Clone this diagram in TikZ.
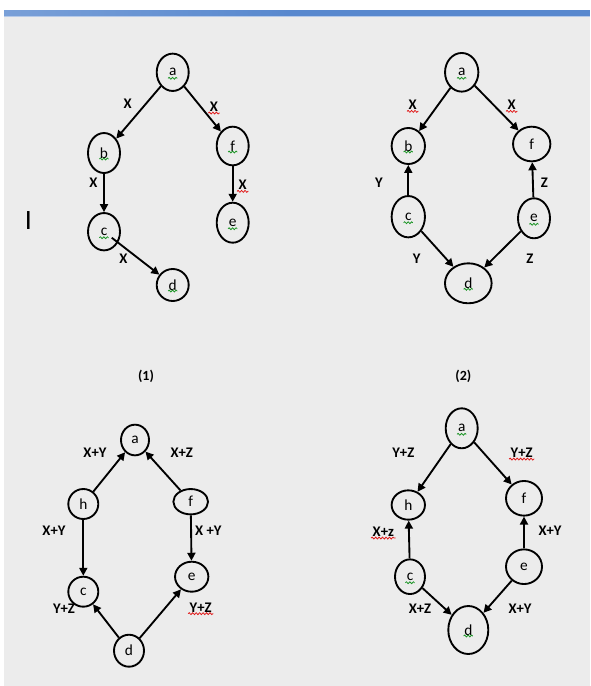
\documentclass[tikz,border=0pt]{standalone}
\usepackage{fontspec}
\setmainfont{Carlito}
\usetikzlibrary{shapes.geometric,arrows.meta,decorations.pathmorphing}
\definecolor{panel}{RGB}{236,236,236}
\definecolor{titlebar}{RGB}{88,136,206}
\definecolor{spellred}{RGB}{225,25,25}
\definecolor{spellgreen}{RGB}{30,150,40}
\tikzset{>={Triangle[length=6pt,width=6pt]}}
\tikzset{
	vertex/.style={draw, ellipse, line width=1.4pt, inner sep=0pt,
		minimum width=24pt, minimum height=28pt, font=\fontsize{11.5}{13}\selectfont},
	wlabel/.style={inner sep=1pt, font=\bfseries\fontsize{11}{13}\selectfont},
	edge/.style={->, line width=1.4pt},
	redwave/.style={spellred, line width=0.6pt,
		decorate, decoration={snake, segment length=2.6pt, amplitude=0.7pt}},
	greenwave/.style={spellgreen, line width=0.6pt,
		decorate, decoration={snake, segment length=2.6pt, amplitude=0.7pt}}
}

\begin{document}
\begin{tikzpicture}[x=0.75pt, y=-0.75pt]
	\useasboundingbox (0,0) rectangle (590,686);
	% window
	\fill[panel] (4,16) rectangle (590,686);
	\shade[left color=titlebar!80!white, right color=titlebar] (4,10) rectangle (290,16);
	\fill[titlebar] (290,10) rectangle (590,16);
	\fill[titlebar!45!white] (4,16) rectangle (590,17);
	\node[inner sep=0pt, font=\fontsize{21}{21}\selectfont] (cursor) at (28.3,220.7) {I};

	% graph (1)
	\begin{scope}[every node/.append style={vertex}]
		\node (a1) at (172.7, 72.3) {a};
		\node[minimum height=30pt] (b1) at (104, 153) {b};
		\node[minimum height=29pt] (f1) at (232.7, 146) {f};
		\node (c1) at (104, 231.7) {c};
		\node[minimum height=30pt] (e1) at (232.7, 222.7) {e};
		\node[minimum height=24pt] (d1) at (172.7, 285) {d};
	\end{scope}
	\draw[edge] (a1) -- (b1);
	\draw[edge] (a1) -- (f1);
	\draw[edge] (b1) -- (c1);
	\draw[edge] (f1) -- (e1);
	\draw[edge, shorten <=-6pt] (c1) -- (d1);
	\node[wlabel] (x11) at (127.7, 103.3) {X};
	\node[wlabel] (x12) at (214, 106.7) {X};
	\node[wlabel] (x13) at (93.3, 182.7) {X};
	\node[wlabel] (x14) at (242.7, 185) {X};
	\node[wlabel] (x15) at (123.3, 259) {X};
	\node[wlabel, font=\bfseries\fontsize{10.5}{12}\selectfont] (cap1) at (146, 376) {(1)};

	% graph (2)
	\begin{scope}[every node/.append style={vertex}]
		\node[minimum width=25pt, minimum height=29pt] (a2) at (461.7, 72.3) {a};
		\node[minimum width=25pt, minimum height=27pt] (b2) at (408.3, 146) {b};
		\node[minimum width=28pt, minimum height=26pt] (f2) at (531.7, 144) {f};
		\node[minimum width=25pt, minimum height=31pt] (c2) at (408.3, 216.7) {c};
		\node[minimum height=30pt] (e2) at (534, 218.3) {e};
		\node[minimum width=35pt, minimum height=30pt] (d2) at (468.3, 283.3) {d};
	\end{scope}
	\draw[edge] (a2) -- (b2);
	\draw[edge] (a2) -- (f2);
	\draw[edge] (c2) -- (b2);
	\draw[edge] (e2) -- (f2);
	\draw[edge] (c2) -- (d2);
	\draw[edge] (e2) -- (d2);
	\node[wlabel] (x21) at (412.7, 105) {X};
	\node[wlabel] (x22) at (511.7, 105) {X};
	\node[wlabel] (y21) at (379, 182.7) {Y};
	\node[wlabel] (z21) at (544.3, 182.7) {Z};
	\node[wlabel] (y22) at (416.7, 258.3) {Y};
	\node[wlabel] (z22) at (530, 258.3) {Z};
	\node[wlabel, font=\bfseries\fontsize{10.5}{12}\selectfont] (cap2) at (463.3, 376) {(2)};

	% graph (3)
	\begin{scope}[every node/.append style={vertex, minimum width=22.5pt, minimum height=22.5pt}]
		\node[minimum width=21pt, minimum height=23pt] (a3) at (135, 440) {a};
		\node (h3) at (83.3, 504) {h};
		\node[minimum width=26pt, minimum height=19pt] (f3) at (190.7, 501.7) {f};
		\node (c3) at (83.3, 591.7) {c};
		\node[minimum width=25pt] (e3) at (191.7, 576.7) {e};
		\node[minimum height=24pt] (d3) at (129, 650.7) {d};
	\end{scope}
	\draw[edge] (h3) -- (a3);
	\draw[edge] (f3) -- (a3);
	\draw[edge] (h3) -- (c3);
	\draw[edge] (f3) -- (e3);
	\draw[edge] (d3) -- (c3);
	\draw[edge] (d3) -- (e3);
	\node[wlabel] (s31) at (95, 452.7) {X+Y};
	\node[wlabel] (s32) at (181.7, 452.7) {X+Z};
	\node[wlabel] (s33) at (54, 530.7) {X+Y};
	\node[wlabel] (s34) at (208.3, 530.7) {X +Y};
	\node[wlabel] (s35) at (64, 608.3) {Y+Z};
	\node[wlabel] (s36) at (200.7, 607.3) {Y+Z};

	% graph (4)
	\begin{scope}[every node/.append style={vertex}]
		\node[minimum width=24pt, minimum height=30pt] (a4) at (461.7, 428.3) {a};
		\node[minimum width=25pt, minimum height=22pt] (h4) at (408.3, 505) {h};
		\node[minimum width=27pt, minimum height=26pt] (f4) at (524, 498.3) {f};
		\node[minimum width=22.5pt, minimum height=26pt] (c4) at (410, 576.7) {c};
		\node[minimum width=27pt, minimum height=26pt] (e4) at (524, 566.7) {e};
		\node[minimum width=30pt, minimum height=36pt] (d4) at (468.3, 630) {d};
	\end{scope}
	\draw[edge] (a4) -- (h4);
	\draw[edge] (a4) -- (f4);
	\draw[edge] (c4) -- (h4);
	\draw[edge] (e4) -- (f4);
	\draw[edge] (c4) -- (d4);
	\draw[edge] (e4) -- (d4);
	\node[wlabel] (s41) at (403.3, 452.7) {Y+Z};
	\node[wlabel] (s42) at (521.7, 452.7) {Y+Z};
	\node[wlabel] (s43) at (383.3, 531.7) {X+z};
	\node[wlabel] (s44) at (550, 530.7) {X+Y};
	\node[wlabel] (s45) at (420, 608.3) {X+Z};
	\node[wlabel] (s46) at (520, 608.3) {X+Y};

	% spell-check marks
	\foreach \n in {x12, x14, x21, x22, s36, s42, s43}
		\draw[redwave] (\n.south west) -- (\n.south east);
	\foreach \n in {a1, b1, f1, c1, e1, d1, a2, b2, c2, e2, d2, a4, c4, d4}
		\draw[greenwave] ([shift={(-3.5pt,-4.5pt)}]\n.center) -- ([shift={(3.5pt,-4.5pt)}]\n.center);
\end{tikzpicture}
\end{document}
